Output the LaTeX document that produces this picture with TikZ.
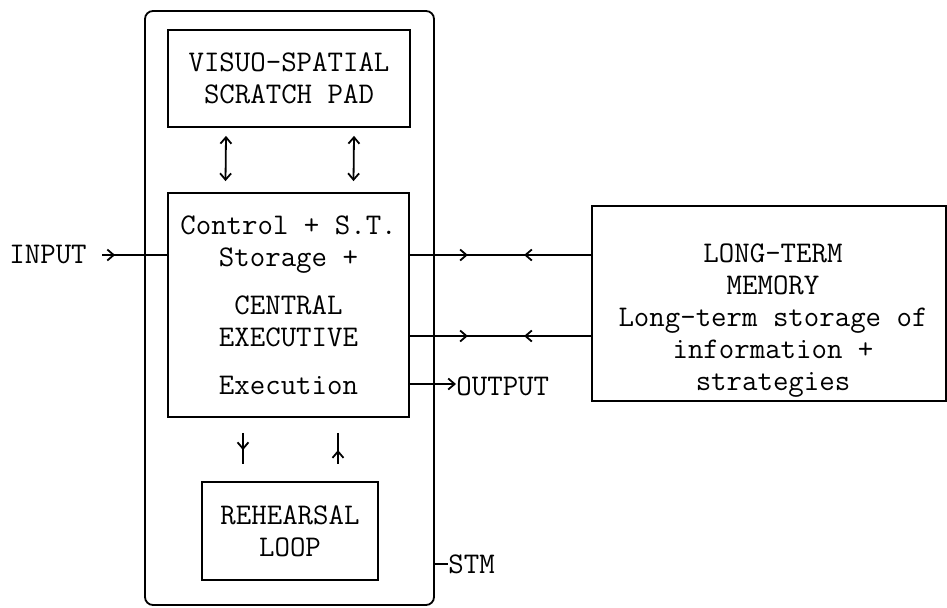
\documentclass[tikz,border=0pt]{standalone}
\usepackage{fontspec}
\usetikzlibrary{arrows.meta,decorations.markings,calc}
\tikzset{
  tip/.tip={Straight Barb[length=3.2pt,width=5.5pt,line width=0.9pt]},
  box/.style={draw,line width=0.9pt,align=center,inner sep=0pt,font=\ttfamily\fontsize{15}{16}\selectfont},
  txt/.style={align=center,inner sep=0pt,font=\ttfamily\fontsize{15}{16}\selectfont},
  conn/.style={line width=0.9pt},
  midarrow/.style={conn,postaction={decorate},decoration={markings,mark=at position #1 with {\arrow{tip}}}},
  midback/.style={conn,postaction={decorate},decoration={markings,mark=at position #1 with {\arrowreversed{tip}}}},
  twoway/.style={conn,postaction={decorate},decoration={markings,
     mark=at position 0.32 with {\arrow{tip}},
     mark=at position 0.63 with {\arrowreversed{tip}}}},
}
\begin{document}
\begin{tikzpicture}[x=0.5pt,y=-0.5pt]
\useasboundingbox (0,0) rectangle (947,607);
% outer STM box
\node[draw,line width=0.9pt,rounded corners=4pt,minimum width=144.5pt,minimum height=297pt,inner sep=0pt] (stm) at (289.5,308) {};
% boxes
\node[box,minimum width=121pt,minimum height=48.5pt] (vs) at (289,78.5) {VISUO-SPATIAL\\SCRATCH PAD};
\node[box,minimum width=120.5pt,minimum height=112pt] (ce) at (288.5,305) {Control + S.T.\\Storage +\\[8pt]CENTRAL\\EXECUTIVE\\[8pt]Execution};
\node[box,minimum width=88pt,minimum height=49pt] (rl) at (290,531) {REHEARSAL\\LOOP};
\node[box,minimum width=177pt,minimum height=97.5pt] (ltm) at (769,303.5) {};
\node[txt] (ltmt) at (773,320.5) {LONG-TERM\\MEMORY\\Long-term storage of\\information +\\strategies};
% labels
\node[txt,anchor=west] (in) at (9,255) {INPUT};
\node[txt,anchor=west] (out) at (456,386) {OUTPUT};
\node[txt,anchor=west] (stml) at (448,564) {STM};
% coordinates
\coordinate (inS) at ($(in.east)+(15,0)$);
% input
\draw[midarrow=0.2] (inS) -- (inS -| ce.west);
% ce <-> ltm
\draw[twoway] (ce.east |- 0,255) -- (ltm.west |- 0,255);
\draw[twoway] (ce.east |- 0,336) -- (ltm.west |- 0,336);
% output
\draw[conn,-{tip}] (ce.east |- 0,384) -- (out.west |- 0,384);
% stm tick
\draw[conn] (stm.east |- stml.west) -- (stml.west);
% vs <-> ce
\draw[conn,{tip}-{tip}] ($(vs.south)+(-63,8)$) -- ($(ce.north)+(-63,-11)$);
\draw[conn,{tip}-{tip}] ($(vs.south)+(65,8)$) -- ($(ce.north)+(65,-11)$);
% ce <-> rl
\draw[midarrow=0.55] ($(ce.south)+(-45.5,15)$) -- ($(rl.north)+(-47,-17)$);
\draw[midback=0.55] ($(ce.south)+(49.5,15)$) -- ($(rl.north)+(48,-17)$);
\end{tikzpicture}
\end{document}
